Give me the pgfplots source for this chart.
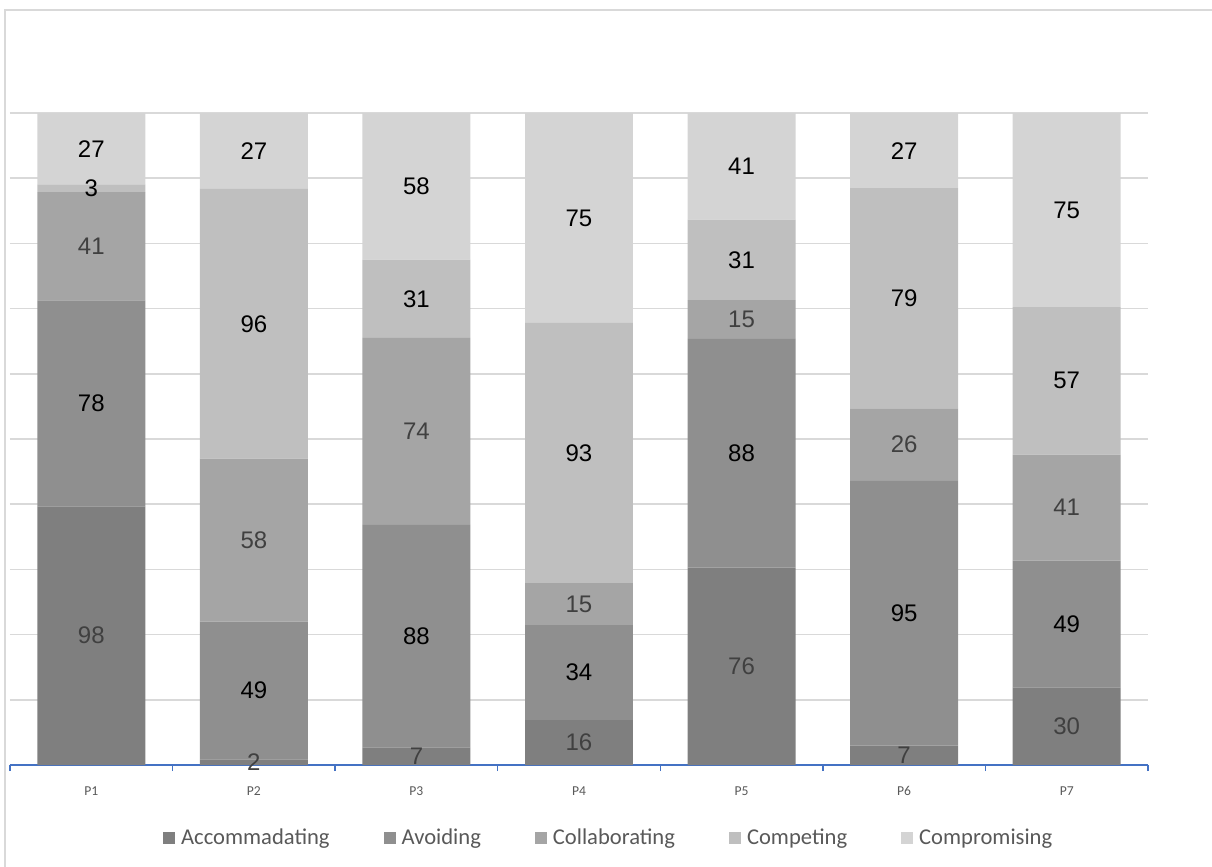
\documentclass[border=0pt]{standalone}
\usepackage{pgfplots}
\usepackage{pgfplotstable}
\pgfplotsset{compat=1.18}
\usepackage{fontspec}
\setmainfont{Liberation Sans}
\newfontfamily\calibri{Carlito}

\definecolor{cAcc}{HTML}{7F7F7F}
\definecolor{cAvo}{HTML}{8F8F8F}
\definecolor{cCol}{HTML}{A5A5A5}
\definecolor{cCmp}{HTML}{BFBFBF}
\definecolor{cCpr}{HTML}{D4D4D4}
\definecolor{gridc}{HTML}{D9D9D9}
\definecolor{framec}{HTML}{D9D9D9}
\definecolor{axisblue}{HTML}{4472C4}
\definecolor{labeldark}{HTML}{404040}
\definecolor{ticktext}{HTML}{595959}

% counts per participant and conflict style
\pgfplotstableread{
x Acc Avo Col Cmp Cpr
0 98 78 41  3 27
1  2 49 58 96 27
2  7 88 74 31 58
3 16 34 15 93 75
4 76 88 15 31 41
5  7 95 26 79 27
6 30 49 41 57 75
}\styles
\pgfplotstablecreatecol[expr={\thisrow{Acc}+\thisrow{Avo}+\thisrow{Col}+\thisrow{Cmp}+\thisrow{Cpr}}]{Tot}\styles

\pgfplotsset{
  box/.style={width=569pt, height=326pt, scale only axis,
    at={(5pt,-382.5pt)}, anchor=south west,
    xmin=-0.5, xmax=6.5, ymin=0, ymax=100},
  seglabel/.style={only marks, mark=none, nodes near coords,
    point meta=explicit symbolic,
    every node near coord/.append style={anchor=center, inner sep=0pt,
      font=\fontsize{12}{14}\selectfont, text=#1}},
}

\begin{document}
\begin{tikzpicture}
\path[use as bounding box] (0,0) rectangle (606pt,-433.5pt);
\draw[framec, line width=1pt] (2.5pt,-433.5pt) -- (2.5pt,-5pt) -- (606pt,-5pt);

\begin{axis}[box,
  ybar stacked, bar width=0.664,
  axis x line=bottom, axis y line=left,
  x axis line style={-, draw=axisblue, line width=0.7pt},
  y axis line style={draw=none},
  xtick={0,...,6}, xticklabels={P1,P2,P3,P4,P5,P6,P7},
  major x tick style={draw=none},
  minor xtick={-0.5,0.5,...,6.5},
  minor tick length=3pt, tick align=outside,
  minor x tick style={draw=axisblue, line width=0.7pt},
  x tick label style={font=\calibri\fontsize{6.8}{8}\selectfont, text=ticktext, yshift=-3pt},
  ytick={0,10,...,100}, yticklabels={}, major y tick style={draw=none},
  ymajorgrids, grid style={draw=gridc, line width=0.75pt},
  legend image code/.code={\fill[#1] (0pt,-3pt) rectangle (6pt,3pt);},
  legend style={draw=none, at={(0.527,-0.112)}, anchor=center,
    legend columns=5, font=\calibri\fontsize{11.3}{13}\selectfont, text=ticktext,
    /tikz/every odd column/.append style={column sep=1pt},
    /tikz/every even column/.append style={column sep=25pt}},
]
\addplot[draw=none, fill=cAcc] table[x=x, y expr=\thisrow{Acc}/\thisrow{Tot}*100]{\styles};
\addplot[draw=none, fill=cAvo] table[x=x, y expr=\thisrow{Avo}/\thisrow{Tot}*100]{\styles};
\addplot[draw=none, fill=cCol] table[x=x, y expr=\thisrow{Col}/\thisrow{Tot}*100]{\styles};
\addplot[draw=none, fill=cCmp] table[x=x, y expr=\thisrow{Cmp}/\thisrow{Tot}*100]{\styles};
\addplot[draw=none, fill=cCpr] table[x=x, y expr=\thisrow{Cpr}/\thisrow{Tot}*100]{\styles};
\legend{Accommadating, Avoiding, Collaborating, Competing, Compromising}
\end{axis}

% value labels centred in each segment
\begin{axis}[box, hide axis, clip=false]
\addplot[seglabel=labeldark] table[x=x, meta=Acc,
  y expr=(0.5*\thisrow{Acc})/\thisrow{Tot}*100]{\styles};
\addplot[seglabel=black] table[x=x, meta=Avo,
  y expr=(\thisrow{Acc}+0.5*\thisrow{Avo})/\thisrow{Tot}*100]{\styles};
\addplot[seglabel=labeldark] table[x=x, meta=Col,
  y expr=(\thisrow{Acc}+\thisrow{Avo}+0.5*\thisrow{Col})/\thisrow{Tot}*100]{\styles};
\addplot[seglabel=black] table[x=x, meta=Cmp,
  y expr=(\thisrow{Acc}+\thisrow{Avo}+\thisrow{Col}+0.5*\thisrow{Cmp})/\thisrow{Tot}*100]{\styles};
\addplot[seglabel=black] table[x=x, meta=Cpr,
  y expr=(\thisrow{Tot}-0.5*\thisrow{Cpr})/\thisrow{Tot}*100]{\styles};
\end{axis}
\end{tikzpicture}
\end{document}
